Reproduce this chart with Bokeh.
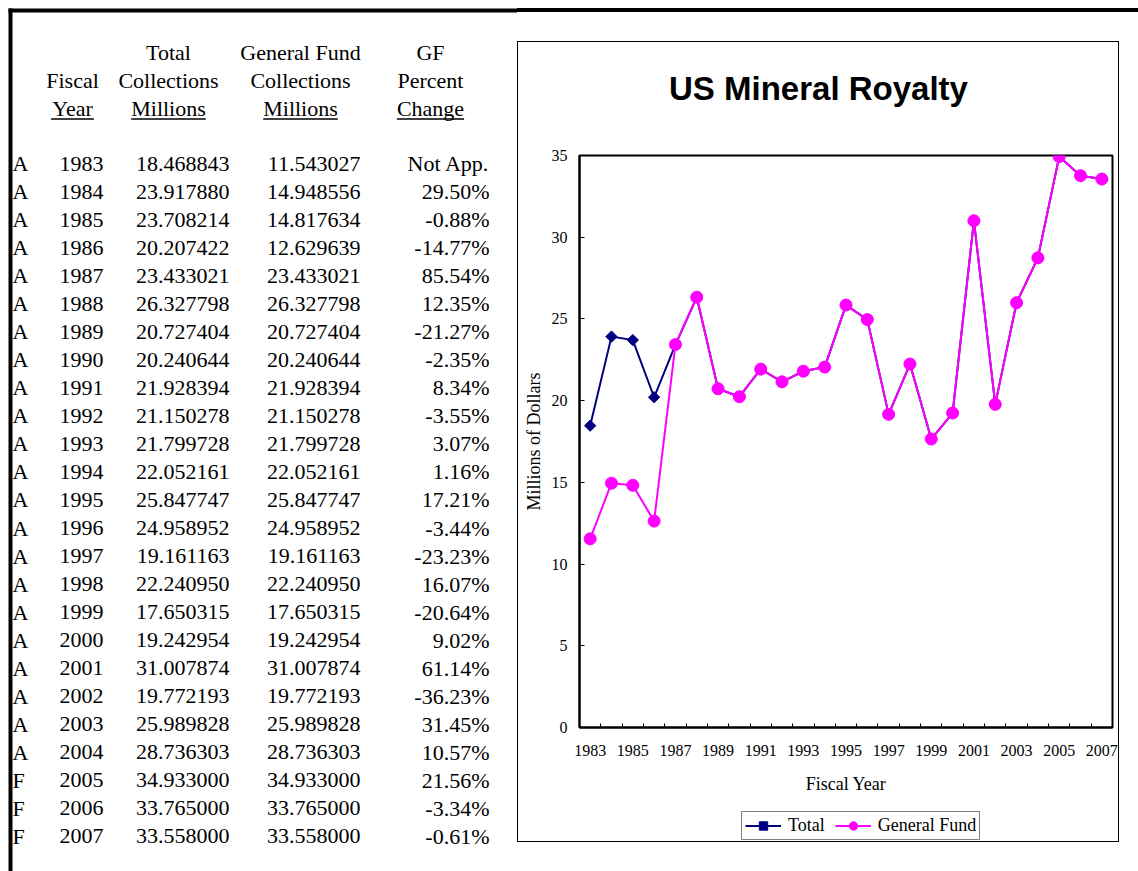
import math
from bokeh.plotting import figure
from bokeh.models import (Range1d, FixedTicker, Legend, LegendItem, Title,
                          ColumnDataSource, Spacer, Div)
from bokeh.layouts import row, column
from bokeh.embed import file_html
from bokeh.resources import INLINE
from bokeh.core.properties import value

# ---------------- data ----------------
status = ["A"] * 22 + ["F"] * 3
years = list(range(1983, 2008))
total = [18.468843, 23.917880, 23.708214, 20.207422, 23.433021, 26.327798,
         20.727404, 20.240644, 21.928394, 21.150278, 21.799728, 22.052161,
         25.847747, 24.958952, 19.161163, 22.240950, 17.650315, 19.242954,
         31.007874, 19.772193, 25.989828, 28.736303, 34.933000, 33.765000,
         33.558000]
general_fund = [11.543027, 14.948556, 14.817634, 12.629639, 23.433021, 26.327798,
                20.727404, 20.240644, 21.928394, 21.150278, 21.799728, 22.052161,
                25.847747, 24.958952, 19.161163, 22.240950, 17.650315, 19.242954,
                31.007874, 19.772193, 25.989828, 28.736303, 34.933000, 33.765000,
                33.558000]
pct_change = ["Not App.", "29.50%", "-0.88%", "-14.77%", "85.54%", "12.35%",
              "-21.27%", "-2.35%", "8.34%", "-3.55%", "3.07%", "1.16%",
              "17.21%", "-3.44%", "-23.23%", "16.07%", "-20.64%", "9.02%",
              "61.14%", "-36.23%", "31.45%", "10.57%", "21.56%", "-3.34%",
              "-0.61%"]
header_lines = [["", "Total", "General Fund", "GF"],
                ["Fiscal", "Collections", "Collections", "Percent"],
                ["Year", "Millions", "Millions", "Change"]]
x_tick_years = list(range(1983, 2008, 2))
y_ticks = [0, 5, 10, 15, 20, 25, 30, 35]
title_text = "US Mineral Royalty"
x_title = "Fiscal Year"
y_title = "Millions of Dollars"
series_names = ["Total", "General Fund"]
series_fields = ["total", "gf"]

SERIF = "Liberation Serif"
SANS = "Liberation Sans"
NAVY = "#000080"
MAGENTA = "#FF00FF"


def pixfig(x0, x1, y0, y1):
    f = figure(width=x1 - x0, height=y1 - y0, x_range=Range1d(x0, x1),
               y_range=Range1d(y1, y0), output_backend="svg",
               toolbar_location=None, min_border=0,
               x_axis_location=None, y_axis_location=None)
    f.grid.visible = False
    f.outline_line_color = None
    f.background_fill_color = "white"
    f.border_fill_color = "white"
    return f


def rule(w, h):
    return Div(text="", width=w, height=h, margin=0, styles={"background-color": "black"})


# ---------------- table (page pixel coordinates) ----------------
tab = pixfig(0, 517, 0, 871)
tab.quad(left=[8], right=[517], top=[8], bottom=[12], fill_color="black", line_color=None)
tab.quad(left=[8], right=[12], top=[8], bottom=[871], fill_color="black", line_color=None)

col_center = [72, 168, 300, 430]
head_y = [52, 80, 108]
hx, hy, ht = [], [], []
for r, line in enumerate(header_lines):
    for c, t in enumerate(line):
        if t:
            hx.append(col_center[c]); hy.append(head_y[r]); ht.append(t)
tab.text(x=hx, y=hy, text=ht, text_font=value(SERIF), text_font_size="22px",
         text_align="center", text_baseline="middle", text_color="black")
half_w = [21.4, 37.3, 37.3, 33.6]
tab.segment(x0=[c - w for c, w in zip(col_center, half_w)], y0=[118.5] * 4,
            x1=[c + w for c, w in zip(col_center, half_w)], y1=[118.5] * 4,
            line_color="black", line_width=1.3)

row_y0, row_h = 163, 28.04
ys = [row_y0 + i * row_h for i in range(len(years))]
common = dict(text_font=value(SERIF), text_font_size="22px", text_baseline="middle", text_color="black")
tab.text(x=[12] * len(ys), y=ys, text=status, text_align="left", **common)
tab.text(x=[81] * len(ys), y=ys, text=[str(y) for y in years], text_align="center", **common)
tab.text(x=[229] * len(ys), y=ys, text=["%.6f" % v for v in total], text_align="right", **common)
tab.text(x=[360] * len(ys), y=ys, text=["%.6f" % v for v in general_fund], text_align="right", **common)
tab.text(x=[489] * len(ys), y=ys, text=pct_change, text_align="right", **common)

# ---------------- chart ----------------
p = figure(width=600, height=759, x_range=Range1d(1982.5, 2007.5), y_range=Range1d(0, 35),
           output_backend="svg", toolbar_location=None, title=None,
           min_border_left=61, min_border_right=6, min_border_top=113, min_border_bottom=74)
p.grid.visible = False
p.outline_line_color = "black"
p.outline_line_width = 2
p.background_fill_color = "white"
p.border_fill_color = "white"

# a blank title row pushes the chart title up, away from the plot area
p.add_layout(Title(text=" ", text_font_size="29px"), "above")
ttl = Title(text=title_text, align="center", text_font=SANS,
            text_font_style="bold", text_font_size="33px", text_color="black")
if "padding" in Title.properties():
    ttl.padding = (0, 55, 0, 0)
else:
    ttl.align = "left"
    ttl.offset = 89
p.add_layout(ttl, "above")

xa = p.xaxis[0]
xa.ticker = FixedTicker(ticks=x_tick_years, minor_ticks=[y + 0.5 for y in years[:-1]])
xa.major_tick_in = 0
xa.major_tick_out = 0
xa.minor_tick_in = 4
xa.minor_tick_out = 0
xa.major_label_standoff = 17
xa.axis_label = x_title
xa.axis_label_standoff = 15

ya = p.yaxis[0]
ya.ticker = FixedTicker(ticks=y_ticks, minor_ticks=[])
ya.major_tick_in = 5
ya.major_tick_out = 0
ya.minor_tick_in = 0
ya.minor_tick_out = 0
ya.major_label_standoff = 12
ya.axis_label = y_title
ya.axis_label_standoff = 5

for ax in (xa, ya):
    ax.axis_line_color = "black"
    ax.axis_line_width = 2
    ax.major_tick_line_color = "black"
    ax.minor_tick_line_color = "black"
    ax.major_label_text_font = SERIF
    ax.major_label_text_font_size = "16px"
    ax.major_label_text_color = "black"
    ax.axis_label_text_font = SERIF
    ax.axis_label_text_font_size = "18px"
    ax.axis_label_text_font_style = "normal"
    ax.axis_label_text_color = "black"

src = ColumnDataSource(dict(year=years, total=total, gf=general_fund))
styles = [dict(line=dict(line_color=NAVY, line_width=2),
               mark=dict(marker="square", angle=math.pi / 4, size=8,
                         fill_color=NAVY, line_color=NAVY)),
          dict(line=dict(line_color=MAGENTA, line_width=2),
               mark=dict(marker="circle", size=12, fill_color=MAGENTA, line_color=MAGENTA))]
for field, st in zip(series_fields, styles):
    p.line("year", field, source=src, **st["line"])
    p.scatter("year", field, source=src, **st["mark"])

# ---------------- legend strip (bottom of the chart box) ----------------
legfig = figure(width=600, height=40, x_range=Range1d(0, 1), y_range=Range1d(0, 1),
                output_backend="svg", toolbar_location=None,
                min_border_left=61, min_border_right=6, min_border_top=0, min_border_bottom=0,
                x_axis_location=None, y_axis_location=None)
legfig.grid.visible = False
legfig.outline_line_color = None
legfig.background_fill_color = "white"
legfig.border_fill_color = "white"
items = []
for name, field, st in zip(series_names, series_fields, styles):
    # same series; they fall outside this strip's ranges, only their legend keys show
    lr = legfig.line("year", field, source=src, **st["line"])
    mr = legfig.scatter("year", field, source=src, **st["mark"])
    items.append(LegendItem(label=name, renderers=[lr, mr]))
legend = Legend(items=items, orientation="horizontal", location=(162, 1),
                border_line_color="black", border_line_width=1,
                background_fill_color="white", background_fill_alpha=1,
                label_text_font=SERIF, label_text_font_size="18px", label_text_color="black",
                glyph_width=36, glyph_height=21, label_standoff=7, spacing=10,
                padding=3, margin=0, label_height=21)
legfig.add_layout(legend)

# ---------------- frame lines and layout ----------------
inner = column(p, legfig)
box = column(rule(602, 1), row(rule(1, 799), inner, rule(1, 799)), rule(602, 1))
right_col = column(Spacer(width=621, height=8), rule(621, 4), Spacer(width=621, height=29),
                   box, Spacer(width=621, height=29))
layout = row(tab, right_col)
open("out.html", "w").write(file_html(layout, INLINE))
